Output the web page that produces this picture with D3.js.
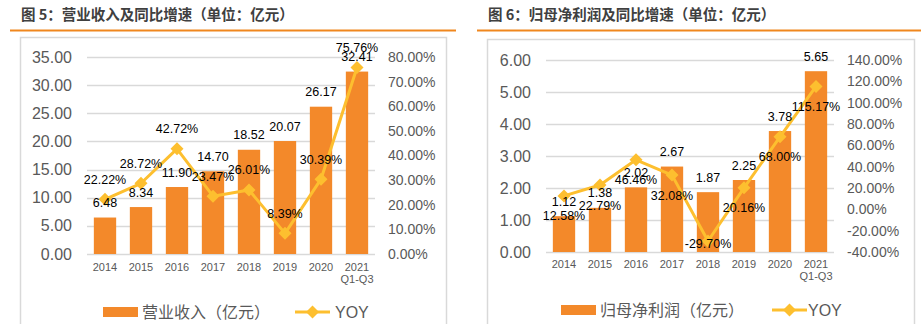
<!DOCTYPE html>
<html><head><meta charset="utf-8">
<script src="https://cdn.jsdelivr.net/npm/d3@7"></script>
<style>
body{margin:0;background:#fff;}
svg{display:block;}
</style></head>
<body>
<svg id="c" width="921" height="324"></svg>
<script>
const categories = ["2014","2015","2016","2017","2018","2019","2020","2021"];
const catSub = ["","","","","","","","Q1-Q3"];
const revenue = [6.48, 8.34, 11.90, 14.70, 18.52, 20.07, 26.17, 32.41];
const revenueYoy = [22.22, 28.72, 42.72, 23.47, 26.01, 8.39, 30.39, 75.76];
const profit = [1.12, 1.38, 2.02, 2.67, 1.87, 2.25, 3.78, 5.65];
const profitYoy = [12.58, 22.79, 46.46, 32.08, -29.70, 20.16, 68.00, 115.17];
const leftTicks1 = [0,5,10,15,20,25,30,35];
const rightTicks1 = [0,10,20,30,40,50,60,70,80];
const leftTicks2 = [0,1,2,3,4,5,6];
const rightTicks2 = [-40,-20,0,20,40,60,80,100,120,140];
const title1 = "图 5：营业收入及同比增速（单位：亿元）";
const title2 = "图 6：归母净利润及同比增速（单位：亿元）";
const legend1 = "营业收入（亿元）";
const legend2 = "归母净利润（亿元）";
// label placement for YOY labels (style)
const yoyPos1 = ["above","above","above","above","above","above","above","above"];
const yoyPos2 = ["below","below","below","below","center","below","below","below"];

const BAR = "#F3892A", LINE = "#FDBF2F", GRID = "#D9D9D9", AX = "#595959";
const svg = d3.select("#c");

function panel(o){
  const g = svg.append("g");
  // title
  g.append("text").attr("x", o.titleX).attr("y", 20)
    .attr("font-family","'Noto Sans CJK SC'").attr("font-weight",700)
    .attr("font-size",14.5).attr("fill","#404040").text(o.title);
  g.append("line").attr("x1",o.hr[0]).attr("x2",o.hr[1]).attr("y1",30.5).attr("y2",30.5)
    .attr("stroke","#F0871E").attr("stroke-width",2);
  g.append("rect").attr("x",o.box[0]+0.5).attr("y",o.box[1]+0.5).attr("width",o.box[2])
    .attr("height",330-o.box[1]).attr("fill","none").attr("stroke",GRID).attr("stroke-width",1.5);

  const x = d3.scaleBand().domain(categories).range(o.xr).paddingInner(0.38).paddingOuter(0.19);
  const y = d3.scaleLinear().domain(o.yd).range(o.yr);
  const y2 = d3.scaleLinear().domain(o.y2d).range(o.yr);

  // grid
  g.append("g").selectAll("line").data(o.lt).join("line")
    .attr("x1",o.xr[0]).attr("x2",o.xr[1])
    .attr("y1",d=>Math.round(y(d))+0.5).attr("y2",d=>Math.round(y(d))+0.5)
    .attr("stroke",GRID).attr("stroke-width",1.3);

  // left axis
  const la = g.append("g").attr("transform",`translate(${o.lax},0)`)
    .call(d3.axisLeft(y).tickValues(o.lt).tickFormat(d3.format(".2f")).tickSize(0).tickPadding(0));
  la.select(".domain").remove();
  la.selectAll("text").attr("font-family","'Liberation Sans',Arial").attr("font-size",16).attr("fill",AX);

  // right axis
  const ra = g.append("g").attr("transform",`translate(${o.rax},0)`)
    .call(d3.axisRight(y2).tickValues(o.rt).tickFormat(d=>d.toFixed(2)+"%").tickSize(0).tickPadding(0));
  ra.select(".domain").remove();
  ra.selectAll("text").attr("font-family","'Liberation Sans',Arial").attr("font-size",14).attr("fill",AX);

  // x labels
  const xl = g.append("g");
  xl.selectAll("text.a").data(categories).join("text").attr("class","a")
    .attr("x",d=>x(d)+x.bandwidth()/2).attr("y",o.xly).attr("text-anchor","middle")
    .attr("font-family","'Liberation Sans',Arial").attr("font-size",11).attr("fill",AX).text(d=>d);
  xl.selectAll("text.b").data(categories).join("text").attr("class","b")
    .attr("x",d=>x(d)+x.bandwidth()/2).attr("y",o.xly+12).attr("text-anchor","middle")
    .attr("font-family","'Liberation Sans',Arial").attr("font-size",11).attr("fill",AX).text((d,i)=>catSub[i]);

  // bars
  g.append("g").selectAll("rect").data(o.bars).join("rect")
    .attr("x",(d,i)=>x(categories[i])).attr("width",x.bandwidth())
    .attr("y",d=>y(d)).attr("height",d=>y(0)-y(d)).attr("fill",BAR);

  // line
  const cx = i=>x(categories[i])+x.bandwidth()/2;
  g.append("path").datum(o.yoy)
    .attr("d",d3.line().x((d,i)=>cx(i)).y(d=>y2(d)))
    .attr("fill","none").attr("stroke",LINE).attr("stroke-width",3).attr("stroke-linejoin","round");
  g.append("g").selectAll("path").data(o.yoy).join("path")
    .attr("transform",(d,i)=>`translate(${cx(i)},${y2(d)})`)
    .attr("d","M0,-6.5L6.5,0L0,6.5L-6.5,0Z").attr("fill",LINE);

  // labels
  const lf = "'Liberation Sans',Arial";
  g.append("g").selectAll("text").data(o.bars).join("text")
    .attr("x",(d,i)=>cx(i)).attr("y",d=>y(d)-10.5).attr("text-anchor","middle")
    .attr("font-family",lf).attr("font-size",12.5).attr("fill","#000").text(d=>d.toFixed(2));
  g.append("g").selectAll("text").data(o.yoy).join("text")
    .attr("x",(d,i)=>cx(i))
    .attr("y",(d,i)=>{const p=o.pos[i]; return y2(d)+(p==="above"?-15.5:p==="below"?24.5:6.5);})
    .attr("text-anchor","middle")
    .attr("font-family",lf).attr("font-size",12.5).attr("fill","#000").text(d=>d.toFixed(2)+"%");

  // legend
  const L = o.leg;
  g.append("rect").attr("x",L.rx).attr("y",L.y-5).attr("width",35).attr("height",10).attr("fill",BAR);
  g.append("text").attr("x",L.tx).attr("y",L.y+6).attr("font-family","'Noto Sans CJK SC'")
    .attr("font-size",16).attr("fill",AX).text(o.legend);
  g.append("line").attr("x1",L.lx).attr("x2",L.lx+35).attr("y1",L.y).attr("y2",L.y)
    .attr("stroke",LINE).attr("stroke-width",3);
  g.append("path").attr("transform",`translate(${L.lx+17.5},${L.y})`)
    .attr("d","M0,-6.5L6.5,0L0,6.5L-6.5,0Z").attr("fill",LINE);
  g.append("text").attr("x",L.yx).attr("y",L.y+6).attr("font-family","'Liberation Sans',Arial")
    .attr("font-size",16).attr("fill",AX).text("YOY");
}

panel({title:title1, titleX:21, hr:[10,456], box:[20,37,426],
  xr:[87,375], yd:[0,35], yr:[254,57], y2d:[0,80],
  lt:leftTicks1, rt:rightTicks1, lax:72, rax:388, xly:271,
  bars:revenue, yoy:revenueYoy, pos:yoyPos1, legend:legend1,
  leg:{rx:103, tx:142, lx:295, yx:335, y:312}});
panel({title:title2, titleX:488, hr:[477,921], box:[487,39,427],
  xr:[546,834], yd:[0,6], yr:[252,60], y2d:[-40,140],
  lt:leftTicks2, rt:rightTicks2, lax:531, rax:847, xly:268,
  bars:profit, yoy:profitYoy, pos:yoyPos2, legend:legend2,
  leg:{rx:561, tx:600, lx:772, yx:808, y:310}});
</script>
</body></html>
